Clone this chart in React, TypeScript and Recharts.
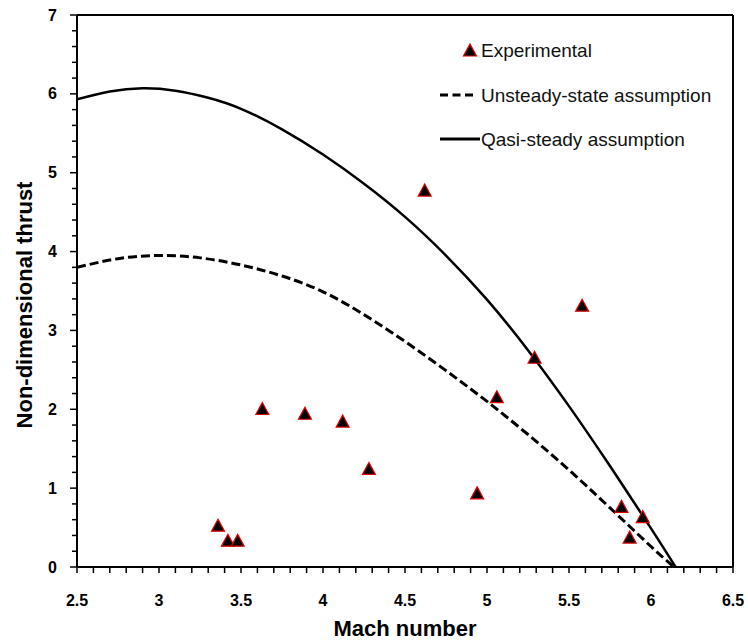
import React from 'react';
import { ComposedChart, Line, Scatter, XAxis, YAxis, ReferenceLine, Legend, Label } from 'recharts';

// Experimental points
const experimentalMach = [3.36, 3.42, 3.48, 3.63, 3.89, 4.12, 4.28, 4.62, 4.94, 5.06, 5.29, 5.58, 5.82, 5.87, 5.95];
const experimentalThrust = [0.53, 0.34, 0.34, 2.01, 1.95, 1.85, 1.25, 4.78, 0.94, 2.16, 2.66, 3.32, 0.77, 0.38, 0.64];

// Unsteady-state assumption curve
const unsteadyMach = [2.5, 2.75, 3, 3.25, 3.5, 3.75, 4, 4.25, 4.5, 4.75, 5, 5.25, 5.5, 5.75, 6, 6.14];
const unsteadyThrust = [3.8, 3.91, 3.95, 3.92, 3.83, 3.69, 3.49, 3.2, 2.86, 2.49, 2.1, 1.68, 1.23, 0.75, 0.26, 0];

// Quasi-steady assumption curve
const quasiMach = [2.5, 2.7, 2.9, 3.1, 3.3, 3.5, 3.75, 4, 4.25, 4.5, 4.75, 5, 5.25, 5.5, 5.75, 6, 6.15];
const quasiThrust = [5.93, 6.03, 6.07, 6.04, 5.95, 5.81, 5.55, 5.23, 4.86, 4.44, 3.95, 3.39, 2.75, 2.04, 1.28, 0.49, 0];

// Axis ticks
const xMajorTicks = [2.5, 3, 3.5, 4, 4.5, 5, 5.5, 6, 6.5];
const xAllTicks = [
  2.5, 2.6, 2.7, 2.8, 2.9, 3, 3.1, 3.2, 3.3, 3.4, 3.5, 3.6, 3.7, 3.8, 3.9, 4, 4.1, 4.2, 4.3, 4.4,
  4.5, 4.6, 4.7, 4.8, 4.9, 5, 5.1, 5.2, 5.3, 5.4, 5.5, 5.6, 5.7, 5.8, 5.9, 6, 6.1, 6.2, 6.3, 6.4, 6.5,
];
const yMajorTicks = [0, 1, 2, 3, 4, 5, 6, 7];
const yAllTicks = [
  0, 0.2, 0.4, 0.6, 0.8, 1, 1.2, 1.4, 1.6, 1.8, 2, 2.2, 2.4, 2.6, 2.8, 3, 3.2, 3.4, 3.6, 3.8, 4,
  4.2, 4.4, 4.6, 4.8, 5, 5.2, 5.4, 5.6, 5.8, 6, 6.2, 6.4, 6.6, 6.8, 7,
];

const experimentalData = experimentalMach.map((x, i) => ({ x, y: experimentalThrust[i] }));
const unsteadyData = unsteadyMach.map((x, i) => ({ x, y: unsteadyThrust[i] }));
const quasiData = quasiMach.map((x, i) => ({ x, y: quasiThrust[i] }));

const isIn = (list: number[], v: number) => list.some((t) => Math.abs(t - v) < 1e-6);

const tickFont = { fontFamily: '"Liberation Sans", Arial, sans-serif', fontWeight: 700, fontSize: 16, fill: '#000' };

const XTick = (props: any) => {
  const { x, y, payload } = props;
  const v = payload.value;
  const major = isIn(xMajorTicks, v);
  return (
    <g>
      <line x1={x} y1={y} x2={x} y2={y + 6} stroke="#000" strokeWidth={1.5} />
      {major && (
        <text x={x} y={y + 33} textAnchor="middle" dominantBaseline="central" style={tickFont}>
          {String(v)}
        </text>
      )}
    </g>
  );
};

const YTick = (props: any) => {
  const { x, y, payload } = props;
  const v = payload.value;
  const major = isIn(yMajorTicks, v);
  return (
    <g>
      <line x1={x - (major ? 7 : 5)} y1={y} x2={x} y2={y} stroke="#000" strokeWidth={1.5} />
      {major && (
        <text x={x - 20} y={y} textAnchor="end" dominantBaseline="central" style={tickFont}>
          {String(v)}
        </text>
      )}
    </g>
  );
};

const Triangle = (props: any) => {
  const { cx, cy } = props;
  if (cx == null || cy == null) return null;
  const w = 13;
  const h = 12;
  return (
    <polygon
      points={`${cx},${cy - h / 2} ${cx + w / 2},${cy + h / 2} ${cx - w / 2},${cy + h / 2}`}
      fill="#000"
      stroke="#e00000"
      strokeWidth={1.2}
    />
  );
};

const legendFont = { fontFamily: '"Liberation Sans", Arial, sans-serif', fontSize: 19, fill: '#111' };

const LegendContent = () => (
  <svg width={310} height={130} style={{ display: 'block' }}>
    <polygon points="42,16 48.5,28 35.5,28" fill="#000" stroke="#e00000" strokeWidth={1.2} />
    <text x={53} y={22} dominantBaseline="central" style={legendFont}>Experimental</text>
    <line x1={12} y1={67} x2={45} y2={67} stroke="#000" strokeWidth={3} strokeDasharray="8 4.5" />
    <text x={53} y={67} dominantBaseline="central" style={legendFont}>Unsteady-state assumption</text>
    <line x1={12} y1={111} x2={52} y2={111} stroke="#000" strokeWidth={3} />
    <text x={53} y={111} dominantBaseline="central" style={legendFont}>Qasi-steady assumption</text>
  </svg>
);

const axisTitleFont = { fontFamily: '"Liberation Sans", Arial, sans-serif', fontWeight: 700, fontSize: 22, fill: '#000' };

export default function App() {
  return (
    <div style={{ position: 'absolute', left: 0, top: 0, width: 748, height: 642, overflow: 'hidden' }}>
      <ComposedChart width={748} height={642} margin={{ top: 15, right: 15, left: 17, bottom: 0 }}>
        <XAxis
          type="number"
          dataKey="x"
          domain={[2.5, 6.5]}
          ticks={xAllTicks}
          interval={0}
          tickSize={0}
          tickMargin={0}
          tickLine={false}
          tick={<XTick />}
          axisLine={{ stroke: '#000', strokeWidth: 2 }}
          height={75}
          allowDataOverflow
        >
          <Label
            content={() => (
              <text x={405} y={636} textAnchor="middle" style={axisTitleFont}>
                Mach number
              </text>
            )}
          />
        </XAxis>
        <YAxis
          type="number"
          dataKey="y"
          domain={[0, 7]}
          ticks={yAllTicks}
          interval={0}
          tickSize={0}
          tickMargin={0}
          tickLine={false}
          tick={<YTick />}
          axisLine={{ stroke: '#000', strokeWidth: 2 }}
          width={60}
          allowDataOverflow
        >
          <Label
            content={() => (
              <text
                x={24}
                y={305}
                transform="rotate(-90 24 305)"
                textAnchor="middle"
                dominantBaseline="central"
                style={axisTitleFont}
              >
                Non-dimensional thrust
              </text>
            )}
          />
        </YAxis>
        <ReferenceLine y={7} stroke="#000" strokeWidth={2} />
        <ReferenceLine x={6.5} stroke="#000" strokeWidth={2} />
        <Line
          data={unsteadyData}
          dataKey="y"
          type="natural"
          stroke="#000"
          strokeWidth={3}
          strokeDasharray="9 4"
          dot={false}
          activeDot={false}
          isAnimationActive={false}
          name="Unsteady-state assumption"
        />
        <Line
          data={quasiData}
          dataKey="y"
          type="natural"
          stroke="#000"
          strokeWidth={2.5}
          dot={false}
          activeDot={false}
          isAnimationActive={false}
          name="Qasi-steady assumption"
        />
        <Scatter
          data={experimentalData}
          dataKey="y"
          shape={<Triangle />}
          isAnimationActive={false}
          name="Experimental"
        />
        <Legend
          layout="vertical"
          align="center"
          verticalAlign="middle"
          content={<LegendContent />}
          wrapperStyle={{ left: 428, top: 28, width: 310, height: 130 }}
        />
      </ComposedChart>
    </div>
  );
}
